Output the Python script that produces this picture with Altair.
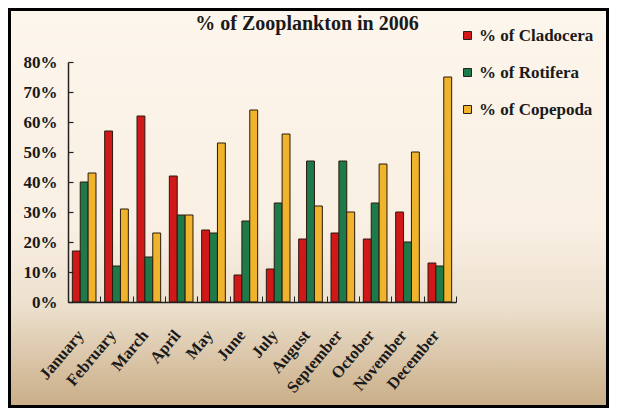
import altair as alt
import pandas as pd

months = ["January", "February", "March", "April", "May", "June", "July",
          "August", "September", "October", "November", "December"]
series = ["% of Cladocera", "% of Rotifera", "% of Copepoda"]
cladocera = [17, 57, 62, 42, 24, 9, 11, 21, 23, 21, 30, 13]
rotifera = [40, 12, 15, 29, 23, 27, 33, 47, 47, 33, 20, 12]
copepoda = [43, 31, 23, 29, 53, 64, 56, 32, 30, 46, 50, 75]
colors = ["#d01818", "#1e7a48", "#f0b42c"]
y_ticks = [0, 10, 20, 30, 40, 50, 60, 70, 80]
title_text = "% of Zooplankton in 2006"

rows = []
for s, vals in zip(series, [cladocera, rotifera, copepoda]):
    for m, v in zip(months, vals):
        rows.append({"month": m, "series": s, "value": v})
df = pd.DataFrame(rows)

W, H = 388, 240
PL, PT, PR, PB = 60, 54, 153, 106
FONT = "Liberation Serif"

one = pd.DataFrame({"t": [title_text]})

bg = alt.Chart(one).mark_rect(
    fill=alt.Gradient(
        gradient="linear", x1=0, x2=0, y1=0, y2=1,
        stops=[
            alt.GradientStop(offset=0, color="#fdf6ec"),
            alt.GradientStop(offset=0.55, color="#f9efe3"),
            alt.GradientStop(offset=0.75, color="#ece0cd"),
            alt.GradientStop(offset=1, color="#caae88"),
        ],
    )
).encode(
    x=alt.value(-PL + 3), x2=alt.value(W + PR - 3),
    y=alt.value(-PT + 3), y2=alt.value(H + PB - 3),
)

title = alt.Chart(one).mark_text(
    font=FONT, fontWeight="bold", fontSize=20, color="#1a1a1a",
    align="center", baseline="alphabetic",
).encode(text="t:N", x=alt.value(239), y=alt.value(-32))

bars = alt.Chart(df).mark_bar(stroke="#2a1a10", strokeWidth=1).encode(
    x=alt.X("month:N", sort=months,
            scale=alt.Scale(paddingInner=0, paddingOuter=0),
            axis=alt.Axis(title=None, labelAngle=-50, labelAlign="right",
                          labelBaseline="middle", labelPadding=36,
                          labelOffset=-4,
                          labelFont=FONT, labelFontWeight="bold",
                          labelFontSize=16.5, labelColor="#1a1a1a",
                          tickBand="extent", tickSize=alt.ExprRef("-6"),
                          tickColor="#222222", tickWidth=1,
                          domainColor="#222222", domainWidth=1.5,
                          zindex=1)),
    xOffset=alt.XOffset("series:N", sort=series,
                        scale=alt.Scale(paddingInner=0, paddingOuter=0.55)),
    y=alt.Y("value:Q",
            scale=alt.Scale(domain=[0, 80], nice=False),
            axis=alt.Axis(title=None, values=y_ticks, grid=False,
                          labelExpr="datum.value + '%'",
                          labelFont=FONT, labelFontWeight="bold",
                          labelFontSize=17, labelColor="#1a1a1a",
                          labelPadding=16,
                          tickSize=alt.ExprRef("-5"), tickColor="#222222",
                          tickWidth=1.2,
                          domainColor="#222222", domainWidth=1.5,
                          zindex=1)),
    color=alt.Color("series:N", sort=series,
                    scale=alt.Scale(domain=series, range=colors),
                    legend=alt.Legend(title=None, orient="none",
                                      legendX=391, legendY=-35,
                                      symbolType="square", symbolSize=64,
                                      symbolStrokeColor="#222222",
                                      symbolStrokeWidth=1,
                                      labelFont=FONT, labelFontWeight="bold",
                                      labelFontSize=17, labelColor="#1a1a1a",
                                      labelOffset=3, rowPadding=19,
                                      padding=0)),
)

chart = alt.layer(bg, bars, title).properties(
    width=W, height=H,
    padding={"left": PL, "top": PT, "right": PR, "bottom": PB},
    autosize=alt.AutoSizeParams(type="none"),
    background="#000000",
).configure_view(stroke=None)

chart.save("out.html", embed_options={"renderer": "svg", "actions": False})
